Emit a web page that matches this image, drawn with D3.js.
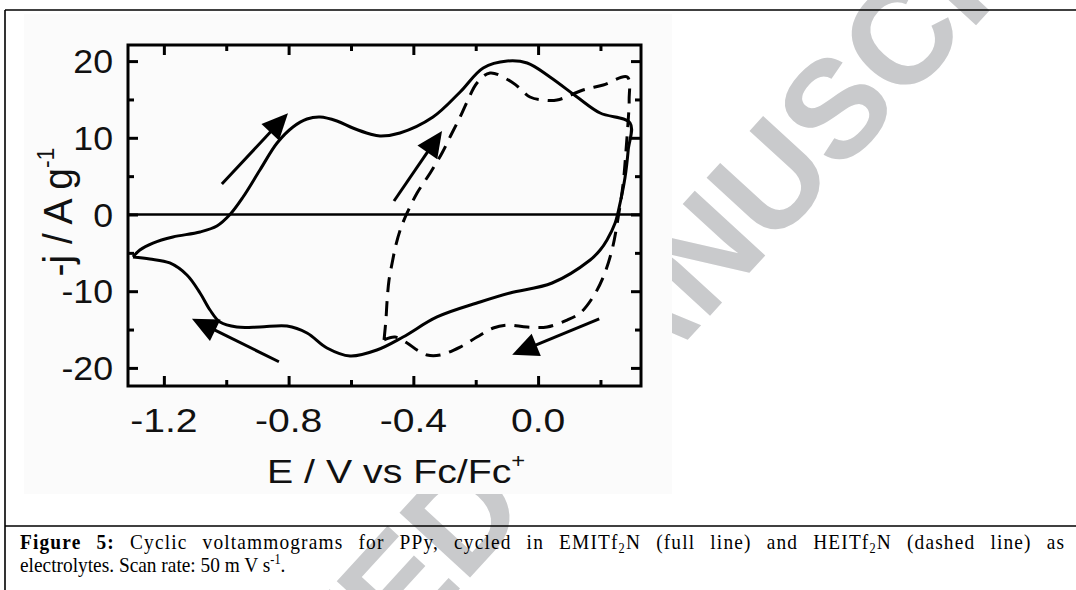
<!DOCTYPE html>
<html>
<head>
<meta charset="utf-8">
<script src="https://cdn.jsdelivr.net/npm/d3@7"></script>
<style>
  html, body { margin: 0; padding: 0; background: #fff; overflow: hidden; }
  svg { display: block; }
</style>
</head>
<body>
<svg id="fig" width="1076" height="590"></svg>
<script>
// ---- axis ticks ----
const xTicks = [-1.2, -0.8, -0.4, 0.0];
const xMinorTicks = [-1.0, -0.6, -0.2, 0.2];
const yTicks = [-20, -10, 0, 10, 20];
const yMinorTicks = [-15, -5, 5, 15];

// ---- EMITf2N (full line): potential E / V and current density j / A g^-1 ----
const emitE = [-1.299, -1.277, -1.235, -1.171, -1.084, -1.030, -0.988, -0.946, -0.892, -0.837,
  -0.786, -0.741, -0.699, -0.645, -0.594, -0.539, -0.507, -0.443, -0.337, -0.250,
  -0.176, -0.099, -0.035, 0.038, 0.125, 0.199, 0.295,
  0.289, 0.279, 0.263, 0.247, 0.221, 0.199, 0.167, 0.045, -0.090, -0.186, -0.324,
  -0.433, -0.517, -0.603, -0.677, -0.741, -0.805, -0.892, -0.966, -1.020, -1.052,
  -1.084, -1.126, -1.181, -1.245, -1.299];
const emitJ = [-5.54, -4.63, -3.72, -2.93, -2.28, -1.50, 0.00, 2.28, 5.80, 9.32,
  11.41, 12.45, 12.71, 12.19, 11.28, 10.50, 10.24, 10.63, 12.71, 15.97,
  19.10, 20.01, 19.75, 17.93, 15.32, 13.23, 11.93,
  8.41, 4.89, 1.50, -1.11, -3.32, -4.63, -5.93, -8.93, -10.23, -11.41, -13.36,
  -15.97, -17.67, -18.45, -17.41, -15.45, -14.54, -14.67, -14.67, -14.02, -12.45,
  -10.23, -7.89, -6.32, -5.80, -5.54];

// ---- HEITf2N (dashed line) ----
const heitE = [-0.494, -0.488, -0.484, -0.478, -0.468, -0.456, -0.440, -0.420, -0.388, -0.346,
  -0.308, -0.276, -0.250, -0.225, -0.196, -0.154, -0.080, -0.026, 0.016, 0.061,
  0.144, 0.209, 0.286,
  0.292, 0.289, 0.282, 0.273, 0.257, 0.237, 0.209, 0.176, 0.135, 0.093, 0.029,
  -0.035, -0.099, -0.144, -0.196, -0.250, -0.314, -0.356, -0.388, -0.420, -0.459, -0.494];
const heitJ = [-16.36, -13.76, -11.15, -8.54, -6.32, -3.98, -1.76, 0.20, 2.80, 5.41,
  8.02, 10.63, 12.71, 14.93, 17.15, 18.45, 17.15, 15.32, 14.93, 14.93,
  16.23, 16.88, 17.93,
  14.93, 12.32, 8.41, 4.11, -0.33, -4.63, -8.15, -10.76, -12.84, -13.76, -14.67,
  -14.67, -14.41, -14.80, -15.97, -17.28, -18.32, -18.32, -17.67, -16.75, -15.97, -16.36];

// ---- scan-direction arrows (tail -> tip, in data units) ----
const arrowFromE = [-1.014, -0.462, -0.831, 0.196];
const arrowFromJ = [3.98, 1.76, -19.2, -13.6];
const arrowToE = [-0.802, -0.308, -1.110, -0.083];
const arrowToJ = [13.2, 10.9, -13.6, -18.3];

// ---- texts ----
const xTitle = "E / V vs Fc/Fc";
const yTitle = "-j / A g";
const captionLine2 = "electrolytes. Scan rate: 50 m V s";
const watermarkText = "ACCEPTED MANUSCRIPT";

const svg = d3.select("#fig");
const SANS = "'Liberation Sans', Arial, Helvetica, sans-serif";
const SERIF = "'Liberation Serif', 'Times New Roman', Times, serif";
const K = 1.15; // horizontal stretch of the chart lettering

// ---- watermark ----
svg.append("text")
  .attr("transform", "translate(15,1074) rotate(-47.5)")
  .attr("font-family", SANS)
  .attr("font-weight", "bold")
  .attr("font-size", 139)
  .attr("fill", "#c9cacc")
  .text(watermarkText);

// ---- chart panel background ----
svg.append("rect")
  .attr("x", 24).attr("y", 14).attr("width", 648).attr("height", 480)
  .attr("fill", "#fbfbfb");

// ---- figure table lines ----
const table = svg.append("g").attr("stroke", "#000").attr("stroke-width", 1.6);
table.append("line").attr("x1", 5).attr("x2", 1076).attr("y1", 10).attr("y2", 10);
table.append("line").attr("x1", 5).attr("x2", 5).attr("y1", 10).attr("y2", 590);
table.append("line").attr("x1", 5).attr("x2", 1076).attr("y1", 526).attr("y2", 526);

// ---- scales ----
const plot = { left: 128, right: 641, top: 45, bottom: 386 };
const x = d3.scaleLinear().domain([-1.315, 0.33]).range([plot.left, plot.right]);
const y = d3.scaleLinear().domain([-22.36, 22.1]).range([plot.bottom, plot.top]);

const g = svg.append("g");

// zero-current line
g.append("line")
  .attr("x1", plot.left).attr("x2", plot.right)
  .attr("y1", y(0)).attr("y2", y(0))
  .attr("stroke", "#000").attr("stroke-width", 2.6);

// ---- curves ----
const line = d3.line()
  .x(d => x(d[0])).y(d => y(d[1]))
  .curve(d3.curveCatmullRom.alpha(0.5));

const emit = emitE.map((e, i) => [e, emitJ[i]]);
const heit = heitE.map((e, i) => [e, heitJ[i]]);

g.append("path").datum(heit)
  .attr("d", line)
  .attr("fill", "none").attr("stroke", "#000")
  .attr("stroke-width", 3).attr("stroke-dasharray", "15,9")
  .attr("stroke-linejoin", "round");

g.append("path").datum(emit)
  .attr("d", line)
  .attr("fill", "none").attr("stroke", "#000")
  .attr("stroke-width", 3).attr("stroke-linejoin", "round");

// ---- arrows ----
const headLen = 26, headHalf = 12;
arrowFromE.forEach((e0, i) => {
  const x0 = x(e0), y0 = y(arrowFromJ[i]);
  const x1 = x(arrowToE[i]), y1 = y(arrowToJ[i]);
  const len = Math.hypot(x1 - x0, y1 - y0);
  const ux = (x1 - x0) / len, uy = (y1 - y0) / len;
  const bx = x1 - ux * headLen, by = y1 - uy * headLen;
  g.append("line")
    .attr("x1", x0).attr("y1", y0)
    .attr("x2", bx + ux * 2).attr("y2", by + uy * 2)
    .attr("stroke", "#000").attr("stroke-width", 3);
  g.append("path")
    .attr("d", `M${x1},${y1}L${bx - uy * headHalf},${by + ux * headHalf}L${bx + uy * headHalf},${by - ux * headHalf}Z`)
    .attr("fill", "#000");
});

// ---- axes frame and inward ticks on all four sides ----
function ticks(axis, size, values, transform) {
  const a = g.append("g").attr("transform", transform)
    .call(axis.tickValues(values).tickSize(-size).tickFormat(""));
  a.select(".domain").remove();
  a.selectAll(".tick line").attr("stroke", "#000").attr("stroke-width", 3);
}
ticks(d3.axisBottom(x), 10, xTicks, `translate(0,${plot.bottom})`);
ticks(d3.axisBottom(x), 6, xMinorTicks, `translate(0,${plot.bottom})`);
ticks(d3.axisTop(x), 10, xTicks, `translate(0,${plot.top})`);
ticks(d3.axisTop(x), 6, xMinorTicks, `translate(0,${plot.top})`);
ticks(d3.axisLeft(y), 10, yTicks, `translate(${plot.left},0)`);
ticks(d3.axisLeft(y), 6, yMinorTicks, `translate(${plot.left},0)`);
ticks(d3.axisRight(y), 10, yTicks, `translate(${plot.right},0)`);
ticks(d3.axisRight(y), 6, yMinorTicks, `translate(${plot.right},0)`);

g.append("rect")
  .attr("x", plot.left).attr("y", plot.top)
  .attr("width", plot.right - plot.left).attr("height", plot.bottom - plot.top)
  .attr("fill", "none").attr("stroke", "#000").attr("stroke-width", 3);

// ---- tick labels ----
const labels = svg.append("g").attr("font-family", SANS).attr("fill", "#111");
xTicks.forEach(v => {
  labels.append("text")
    .attr("transform", `translate(${x(v)},432) scale(${K},1)`)
    .attr("text-anchor", "middle").attr("font-size", 34)
    .text(v.toFixed(1));
});
yTicks.forEach(v => {
  labels.append("text")
    .attr("transform", `translate(113,${y(v) + 12}) scale(1.05,1)`)
    .attr("text-anchor", "end").attr("font-size", 34)
    .text(String(v));
});

// ---- axis titles ----
const xt = labels.append("text")
  .attr("transform", `translate(267,483) scale(1.19,1)`)
  .attr("text-anchor", "start").attr("font-size", 33);
xt.append("tspan").text(xTitle);
xt.append("tspan").attr("font-size", 20).attr("dy", -15).text("+");

const yt = labels.append("text")
  .attr("transform", `translate(72,212) scale(1.04,1) rotate(-90)`)
  .attr("text-anchor", "middle").attr("font-size", 39);
yt.append("tspan").text(yTitle);
yt.append("tspan").attr("font-size", 23).attr("dy", -17).text("-1");

// ---- caption (tall, narrow serif lettering) ----
const CAP_SX = 0.88;
const cap = svg.append("g")
  .attr("transform", `translate(20,0) scale(${CAP_SX},1)`)
  .attr("font-family", SERIF).attr("font-size", 22).attr("fill", "#000");
const l1 = cap.append("text").attr("x", 0).attr("y", 549);
l1.append("tspan").attr("font-weight", "bold").text("Figure 5:");
l1.append("tspan").text(" Cyclic voltammograms for PPy, cycled in EMITf");
l1.append("tspan").attr("font-size", 14).attr("dy", 4).text("2");
l1.append("tspan").attr("dy", -4).text("N (full line) and HEITf");
l1.append("tspan").attr("font-size", 14).attr("dy", 4).text("2");
l1.append("tspan").attr("dy", -4).text("N (dashed line) as");
// justify the first line between the margins
const natural = l1.node().getComputedTextLength();
const target = 1044 / CAP_SX;
const extra = Math.max(0, target - natural);
const nChars = l1.text().length;
const nSpaces = (l1.text().match(/ /g) || []).length;
l1.attr("letter-spacing", extra * 0.45 / (nChars - 1))
  .attr("word-spacing", extra * 0.55 / nSpaces);

const l2 = cap.append("text").attr("x", 0).attr("y", 572);
l2.append("tspan").text(captionLine2);
l2.append("tspan").attr("font-size", 14).attr("dy", -8).text("-1");
l2.append("tspan").attr("dy", 8).text(".");
</script>
</body>
</html>
